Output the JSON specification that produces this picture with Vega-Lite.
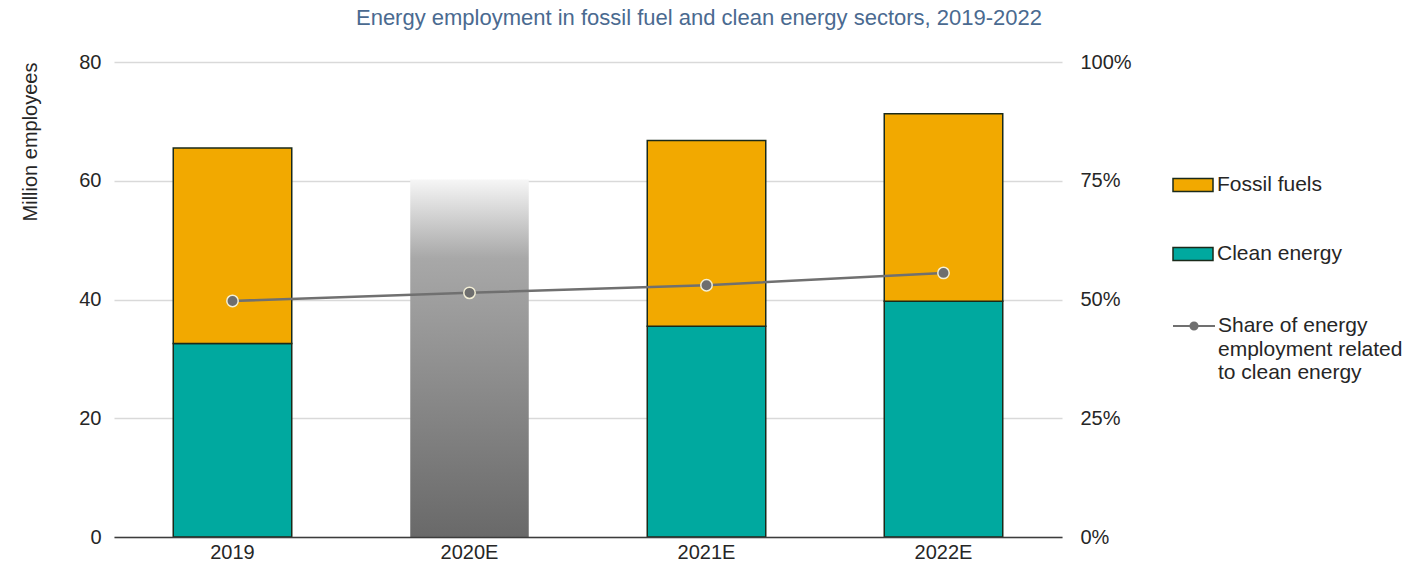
{
  "$schema": "https://vega.github.io/schema/vega-lite/v6.json",
  "autosize": {"type": "none"},
  "width": 948,
  "height": 475,
  "padding": {"left": 114, "top": 62, "right": 347, "bottom": 28},
  "background": "white",
  "title": {
    "text": "Energy employment in fossil fuel and clean energy sectors, 2019-2022",
    "font": "Liberation Sans",
    "fontSize": 22,
    "fontWeight": "normal",
    "color": "#4a6a90",
    "anchor": "middle",
    "dx": 111,
    "offset": 22
  },
  "config": {
    "view": {"stroke": null},
    "axis": {
      "labelFont": "Liberation Sans",
      "titleFont": "Liberation Sans",
      "labelFontSize": 20,
      "labelColor": "#262626",
      "titleColor": "#262626"
    },
    "legend": {
      "labelFont": "Liberation Sans",
      "labelFontSize": 21,
      "labelColor": "#262626",
      "labelLimit": 0
    }
  },
  "datasets": {
    "bars": [
      {"year": "2019", "sector": "Clean energy", "value": 32.6},
      {"year": "2019", "sector": "Fossil fuels", "value": 32.9},
      {"year": "2020E", "sector": "Estimate", "value": 60.2},
      {"year": "2021E", "sector": "Clean energy", "value": 35.5},
      {"year": "2021E", "sector": "Fossil fuels", "value": 31.3},
      {"year": "2022E", "sector": "Clean energy", "value": 39.7},
      {"year": "2022E", "sector": "Fossil fuels", "value": 31.6}
    ],
    "share": [
      {"year": "2019", "share": 0.497},
      {"year": "2020E", "share": 0.514},
      {"year": "2021E", "share": 0.53},
      {"year": "2022E", "share": 0.556}
    ]
  },
  "encoding": {
    "x": {
      "field": "year",
      "type": "nominal",
      "sort": ["2019", "2020E", "2021E", "2022E"],
      "scale": {"paddingInner": 0.5, "paddingOuter": 0.25},
      "axis": {
        "title": null,
        "labelAngle": 0,
        "labelPadding": 5,
        "ticks": false,
        "domainColor": "#3c3c3c",
        "domainWidth": 1.5,
        "grid": false,
        "zindex": 1
      }
    }
  },
  "layer": [
    {
      "data": {"name": "bars"},
      "layer": [
        {
          "transform": [{"filter": "datum.sector !== 'Estimate'"}],
          "mark": {"type": "bar", "stroke": "#1a2a1a", "strokeWidth": 1.5},
          "encoding": {
            "y": {
              "field": "value",
              "type": "quantitative",
              "stack": "zero",
              "scale": {"domain": [0, 80], "nice": false},
              "axis": {
                "title": "Million employees",
                "titleFontSize": 20,
                "titleFontWeight": "normal",
                "titleAnchor": "end",
                "titlePadding": 38,
                "values": [0, 20, 40, 60, 80],
                "labelPadding": 13,
                "ticks": false,
                "domain": false,
                "grid": true,
                "gridColor": "#d9d9d9",
                "gridWidth": 1.5
              }
            },
            "color": {
              "field": "sector",
              "type": "nominal",
              "scale": {
                "domain": ["Fossil fuels", "Clean energy"],
                "range": ["#f2a900", "#00a99f"]
              },
              "legend": {
                "title": null,
                "orient": "none",
                "legendX": 1058,
                "legendY": 102,
                "symbolType": "M-1,-0.32H1V0.32H-1Z",
                "symbolSize": 1600,
                "symbolStrokeColor": "#1a2a1a",
                "symbolStrokeWidth": 1.5,
                "symbolOpacity": 1,
                "labelOffset": 3,
                "rowPadding": 38
              }
            },
            "order": {"field": "sector", "sort": "ascending"}
          }
        },
        {
          "transform": [{"filter": "datum.sector === 'Estimate'"}],
          "mark": {
            "type": "bar",
            "fill": {
              "gradient": "linear",
              "x1": 0, "y1": 0, "x2": 0, "y2": 1,
              "stops": [
                {"offset": 0, "color": "#f6f6f6"},
                {"offset": 0.22, "color": "#a8a8a8"},
                {"offset": 1, "color": "#696969"}
              ]
            }
          },
          "encoding": {
            "y": {"field": "value", "type": "quantitative", "stack": null}
          }
        }
      ]
    },
    {
      "data": {"name": "share"},
      "layer": [
        {
          "mark": {"type": "line", "strokeWidth": 2.5},
          "encoding": {
            "y": {
              "field": "share",
              "type": "quantitative",
              "scale": {"domain": [0, 1], "nice": false},
              "axis": {
                "orient": "right",
                "title": null,
                "values": [0, 0.25, 0.5, 0.75, 1],
                "format": ".0%",
                "labelPadding": 18,
                "ticks": false,
                "domain": false,
                "grid": false
              }
            },
            "stroke": {
              "datum": "Share of energy employment related to clean energy",
              "type": "nominal",
              "scale": {"range": ["#707070"]},
              "legend": {
                "title": null,
                "orient": "none",
                "legendX": 1058,
                "legendY": 242,
                "symbolType": "M-1,0H-0.2M0.2,0H1M-0.17,0A0.17,0.17,0,1,1,0.17,0A0.17,0.17,0,1,1,-0.17,0Z",
                "symbolSize": 1764,
                "symbolStrokeWidth": 2,
                "symbolFillColor": "#707070",
                "labelOffset": 2,
                "labelExpr": "['Share of energy', 'employment related', 'to clean energy']",
                "labelBaseline": "top",
                "encode": {
                  "symbols": {"update": {"fill": {"value": "#707070"}, "stroke": {"value": "#707070"}}},
                  "labels": {"update": {"lineHeight": {"value": 23.5}, "dy": {"value": -11}}}
                }
              }
            }
          }
        },
        {
          "mark": {
            "type": "point",
            "filled": true,
            "fill": "#6e6e6e",
            "stroke": "#f3efd6",
            "strokeWidth": 1.5,
            "size": 130,
            "opacity": 1
          },
          "encoding": {
            "y": {"field": "share", "type": "quantitative"}
          }
        }
      ]
    }
  ],
  "resolve": {"scale": {"y": "independent"}}
}
